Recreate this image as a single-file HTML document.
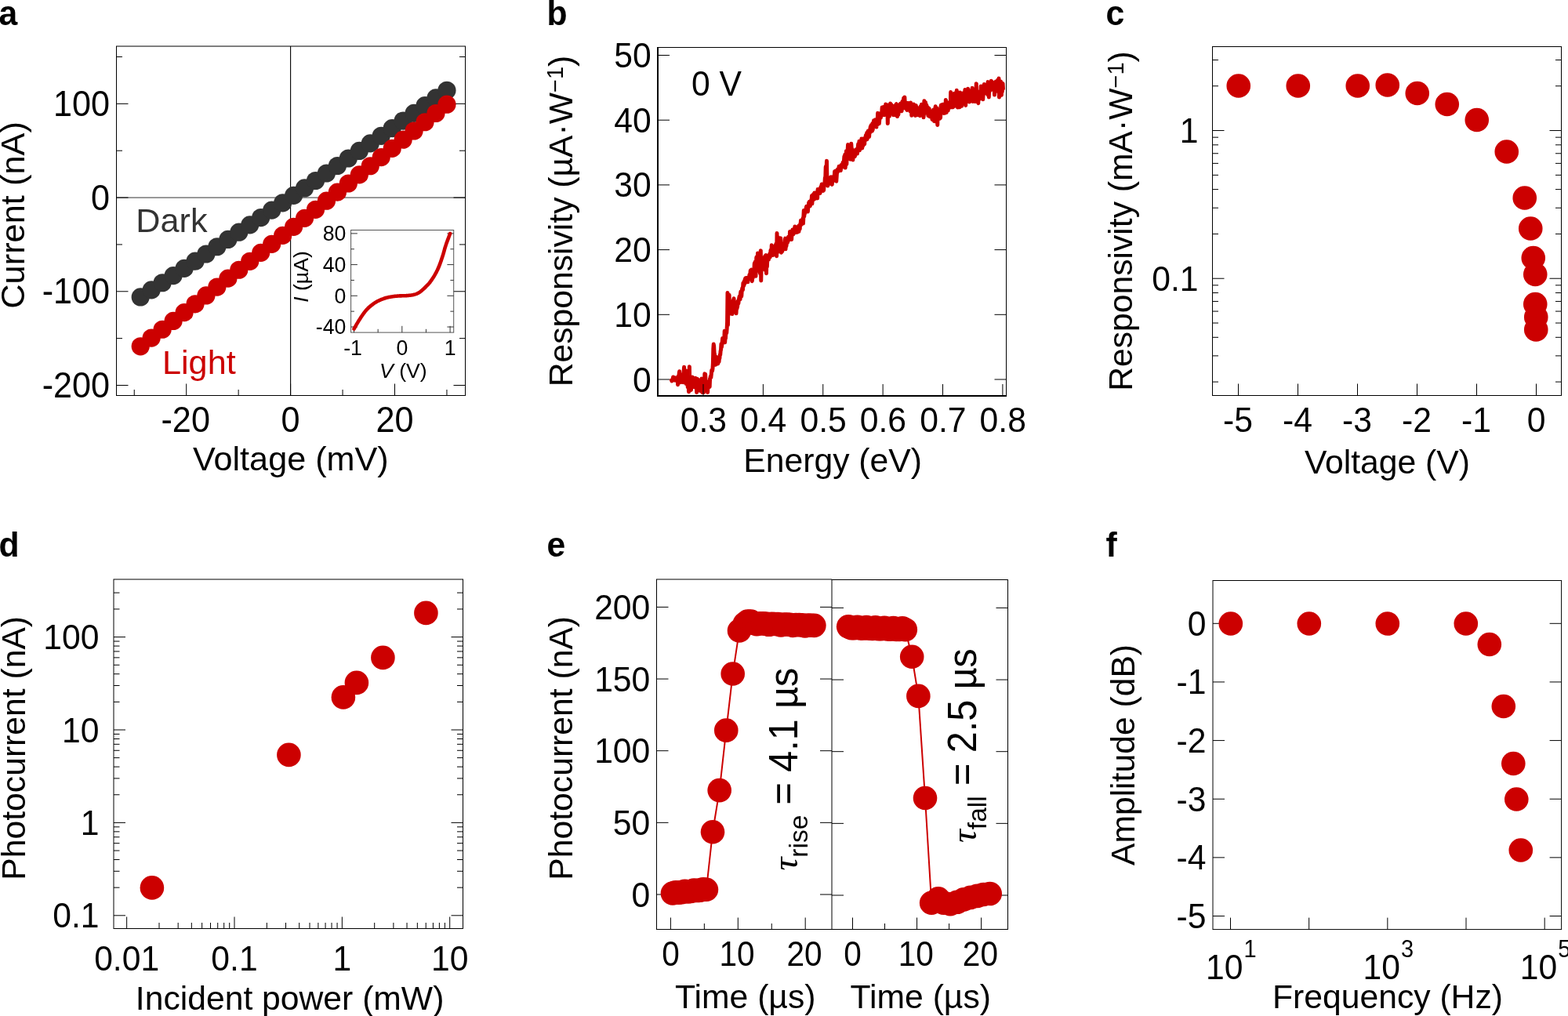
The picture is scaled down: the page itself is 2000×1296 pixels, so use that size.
<!DOCTYPE html>
<html lang="en">
<head>
<meta charset="utf-8">
<title>Figure</title>
<style>
html,body{margin:0;padding:0;background:#fff;}
body{width:2000px;height:1296px;overflow:hidden;}
svg{display:block;}
svg text{font-family:'Liberation Sans', Arial, Helvetica, sans-serif;}
</style>
</head>
<body>
<svg width="2000" height="1296" viewBox="0 0 2000 1296">
<rect x="0" y="0" width="2000" height="1296" fill="#ffffff"/>
<text transform="translate(-1.5 31.7) scale(1 1.03)" font-size="42.67" text-anchor="start" font-weight="bold">a</text>
<text transform="translate(697.5 32) scale(1 1.03)" font-size="42.67" text-anchor="start" font-weight="bold">b</text>
<text transform="translate(1410.5 31.8) scale(1 1.03)" font-size="42.67" text-anchor="start" font-weight="bold">c</text>
<text transform="translate(-1.5 709.6) scale(1 1.03)" font-size="42.67" text-anchor="start" font-weight="bold">d</text>
<text transform="translate(697.5 709.6) scale(1 1.03)" font-size="42.67" text-anchor="start" font-weight="bold">e</text>
<text transform="translate(1410.5 709.6) scale(1 1.03)" font-size="42.67" text-anchor="start" font-weight="bold">f</text>
<g id="panel-a">
<line x1="370.6" y1="59" x2="370.6" y2="504.5" stroke="#000" stroke-width="1.1"/>
<line x1="148.5" y1="252.07" x2="593.5" y2="252.07" stroke="#333" stroke-width="1.0"/>
<rect x="148.5" y="59" width="445" height="445.5" fill="none" stroke="#000" stroke-width="1.0"/>
<line x1="148.5" y1="132.36" x2="163.5" y2="132.36" stroke="#000" stroke-width="1.0"/>
<line x1="593.5" y1="132.36" x2="578.5" y2="132.36" stroke="#000" stroke-width="1.0"/>
<line x1="148.5" y1="252.07" x2="163.5" y2="252.07" stroke="#000" stroke-width="1.0"/>
<line x1="593.5" y1="252.07" x2="578.5" y2="252.07" stroke="#000" stroke-width="1.0"/>
<line x1="148.5" y1="371.78" x2="163.5" y2="371.78" stroke="#000" stroke-width="1.0"/>
<line x1="593.5" y1="371.78" x2="578.5" y2="371.78" stroke="#000" stroke-width="1.0"/>
<line x1="148.5" y1="491.49" x2="163.5" y2="491.49" stroke="#000" stroke-width="1.0"/>
<line x1="593.5" y1="491.49" x2="578.5" y2="491.49" stroke="#000" stroke-width="1.0"/>
<line x1="148.5" y1="72.5" x2="156" y2="72.5" stroke="#000" stroke-width="1.0"/>
<line x1="593.5" y1="72.5" x2="586" y2="72.5" stroke="#000" stroke-width="1.0"/>
<line x1="148.5" y1="192.21" x2="156" y2="192.21" stroke="#000" stroke-width="1.0"/>
<line x1="593.5" y1="192.21" x2="586" y2="192.21" stroke="#000" stroke-width="1.0"/>
<line x1="148.5" y1="311.93" x2="156" y2="311.93" stroke="#000" stroke-width="1.0"/>
<line x1="593.5" y1="311.93" x2="586" y2="311.93" stroke="#000" stroke-width="1.0"/>
<line x1="148.5" y1="431.63" x2="156" y2="431.63" stroke="#000" stroke-width="1.0"/>
<line x1="593.5" y1="431.63" x2="586" y2="431.63" stroke="#000" stroke-width="1.0"/>
<line x1="237.7" y1="504.5" x2="237.7" y2="489.5" stroke="#000" stroke-width="1.0"/>
<line x1="370.6" y1="504.5" x2="370.6" y2="489.5" stroke="#000" stroke-width="1.0"/>
<line x1="503.5" y1="504.5" x2="503.5" y2="489.5" stroke="#000" stroke-width="1.0"/>
<line x1="171.25" y1="504.5" x2="171.25" y2="497" stroke="#000" stroke-width="1.0"/>
<line x1="304.15" y1="504.5" x2="304.15" y2="497" stroke="#000" stroke-width="1.0"/>
<line x1="437.05" y1="504.5" x2="437.05" y2="497" stroke="#000" stroke-width="1.0"/>
<line x1="569.95" y1="504.5" x2="569.95" y2="497" stroke="#000" stroke-width="1.0"/>
<g fill="#333333"><circle cx="179.22" cy="378.96" r="11.6"/><circle cx="193.18" cy="369.86" r="11.6"/><circle cx="207.13" cy="360.73" r="11.6"/><circle cx="221.09" cy="351.58" r="11.6"/><circle cx="235.04" cy="342.4" r="11.6"/><circle cx="249" cy="333.21" r="11.6"/><circle cx="262.95" cy="323.98" r="11.6"/><circle cx="276.91" cy="314.74" r="11.6"/><circle cx="290.86" cy="305.47" r="11.6"/><circle cx="304.81" cy="296.18" r="11.6"/><circle cx="318.77" cy="286.87" r="11.6"/><circle cx="332.72" cy="277.53" r="11.6"/><circle cx="346.68" cy="268.17" r="11.6"/><circle cx="360.63" cy="258.79" r="11.6"/><circle cx="374.59" cy="249.38" r="11.6"/><circle cx="388.54" cy="239.95" r="11.6"/><circle cx="402.5" cy="230.5" r="11.6"/><circle cx="416.45" cy="221.02" r="11.6"/><circle cx="430.4" cy="211.52" r="11.6"/><circle cx="444.36" cy="202" r="11.6"/><circle cx="458.31" cy="192.45" r="11.6"/><circle cx="472.27" cy="182.88" r="11.6"/><circle cx="486.22" cy="173.28" r="11.6"/><circle cx="500.18" cy="163.67" r="11.6"/><circle cx="514.13" cy="154.03" r="11.6"/><circle cx="528.09" cy="144.36" r="11.6"/><circle cx="542.04" cy="134.68" r="11.6"/><circle cx="556" cy="124.97" r="11.6"/><circle cx="569.95" cy="115.24" r="11.6"/></g>
<g fill="#cc0000"><circle cx="179.22" cy="441.81" r="11.6"/><circle cx="193.18" cy="431.05" r="11.6"/><circle cx="207.13" cy="420.26" r="11.6"/><circle cx="221.09" cy="409.46" r="11.6"/><circle cx="235.04" cy="398.64" r="11.6"/><circle cx="249" cy="387.79" r="11.6"/><circle cx="262.95" cy="376.93" r="11.6"/><circle cx="276.91" cy="366.05" r="11.6"/><circle cx="290.86" cy="355.16" r="11.6"/><circle cx="304.81" cy="344.24" r="11.6"/><circle cx="318.77" cy="333.3" r="11.6"/><circle cx="332.72" cy="322.35" r="11.6"/><circle cx="346.68" cy="311.37" r="11.6"/><circle cx="360.63" cy="300.38" r="11.6"/><circle cx="374.59" cy="289.37" r="11.6"/><circle cx="388.54" cy="278.34" r="11.6"/><circle cx="402.5" cy="267.28" r="11.6"/><circle cx="416.45" cy="256.22" r="11.6"/><circle cx="430.4" cy="245.13" r="11.6"/><circle cx="444.36" cy="234.02" r="11.6"/><circle cx="458.31" cy="222.89" r="11.6"/><circle cx="472.27" cy="211.75" r="11.6"/><circle cx="486.22" cy="200.58" r="11.6"/><circle cx="500.18" cy="189.4" r="11.6"/><circle cx="514.13" cy="178.2" r="11.6"/><circle cx="528.09" cy="166.98" r="11.6"/><circle cx="542.04" cy="155.74" r="11.6"/><circle cx="556" cy="144.48" r="11.6"/><circle cx="569.95" cy="133.2" r="11.6"/></g>
<text transform="translate(140.1 147.86) scale(1 1.055)" font-size="43.2" text-anchor="end">100</text>
<text transform="translate(140.1 267.57) scale(1 1.055)" font-size="43.2" text-anchor="end">0</text>
<text transform="translate(140.1 387.28) scale(1 1.055)" font-size="43.2" text-anchor="end">-100</text>
<text transform="translate(140.1 506.99) scale(1 1.055)" font-size="43.2" text-anchor="end">-200</text>
<text transform="translate(236.7 551.2) scale(1 1.055)" font-size="43.2" text-anchor="middle">-20</text>
<text transform="translate(370.6 551.2) scale(1 1.055)" font-size="43.2" text-anchor="middle">0</text>
<text transform="translate(503.5 551.2) scale(1 1.055)" font-size="43.2" text-anchor="middle">20</text>
<text transform="translate(370.9 600.4)" font-size="43.2" text-anchor="middle">Voltage (mV)</text>
<text transform="translate(31 274.4) rotate(-90)" font-size="43.4" text-anchor="middle">Current (nA)</text>
<text transform="translate(173.3 296)" font-size="43.2" text-anchor="start" fill="#333333">Dark</text>
<text transform="translate(207 477)" font-size="43.2" text-anchor="start" fill="#cc0000">Light</text>
<rect x="447.6" y="293.5" width="131.1" height="130.6" fill="none" stroke="#555" stroke-width="1.0"/>
<line x1="447.6" y1="297.86" x2="455.9" y2="297.86" stroke="#333" stroke-width="1.0"/>
<line x1="578.7" y1="297.86" x2="570.4" y2="297.86" stroke="#333" stroke-width="1.0"/>
<line x1="447.6" y1="337.58" x2="455.9" y2="337.58" stroke="#333" stroke-width="1.0"/>
<line x1="578.7" y1="337.58" x2="570.4" y2="337.58" stroke="#333" stroke-width="1.0"/>
<line x1="447.6" y1="377.3" x2="455.9" y2="377.3" stroke="#333" stroke-width="1.0"/>
<line x1="578.7" y1="377.3" x2="570.4" y2="377.3" stroke="#333" stroke-width="1.0"/>
<line x1="447.6" y1="417.02" x2="455.9" y2="417.02" stroke="#333" stroke-width="1.0"/>
<line x1="578.7" y1="417.02" x2="570.4" y2="417.02" stroke="#333" stroke-width="1.0"/>
<line x1="447.6" y1="317.72" x2="451.9" y2="317.72" stroke="#333" stroke-width="1.0"/>
<line x1="578.7" y1="317.72" x2="574.4" y2="317.72" stroke="#333" stroke-width="1.0"/>
<line x1="447.6" y1="357.44" x2="451.9" y2="357.44" stroke="#333" stroke-width="1.0"/>
<line x1="578.7" y1="357.44" x2="574.4" y2="357.44" stroke="#333" stroke-width="1.0"/>
<line x1="447.6" y1="397.16" x2="451.9" y2="397.16" stroke="#333" stroke-width="1.0"/>
<line x1="578.7" y1="397.16" x2="574.4" y2="397.16" stroke="#333" stroke-width="1.0"/>
<line x1="451.5" y1="424.1" x2="451.5" y2="415.8" stroke="#333" stroke-width="1.0"/>
<line x1="512.8" y1="424.1" x2="512.8" y2="415.8" stroke="#333" stroke-width="1.0"/>
<line x1="574.1" y1="424.1" x2="574.1" y2="415.8" stroke="#333" stroke-width="1.0"/>
<line x1="482.15" y1="424.1" x2="482.15" y2="419.8" stroke="#333" stroke-width="1.0"/>
<line x1="543.45" y1="424.1" x2="543.45" y2="419.8" stroke="#333" stroke-width="1.0"/>
<polyline fill="none" stroke="#cc0000" stroke-width="4.6" stroke-linejoin="round" stroke-linecap="round" points="451.5,419.6 452.27,418.27 453.03,416.93 453.8,415.58 454.56,414.23 455.33,412.89 456.1,411.58 456.86,410.31 457.63,409.08 458.4,407.87 459.16,406.68 459.93,405.5 460.69,404.33 461.46,403.18 462.23,402.05 462.99,400.95 463.76,399.88 464.53,398.84 465.29,397.84 466.06,396.88 466.82,395.97 467.59,395.1 468.36,394.28 469.12,393.51 469.89,392.77 470.66,392.06 471.42,391.38 472.19,390.73 472.95,390.1 473.72,389.49 474.49,388.89 475.25,388.31 476.02,387.73 476.79,387.16 477.55,386.63 478.32,386.13 479.08,385.65 479.85,385.2 480.62,384.76 481.38,384.35 482.15,383.95 482.92,383.57 483.68,383.21 484.45,382.86 485.21,382.53 485.98,382.21 486.75,381.9 487.51,381.61 488.28,381.32 489.05,381.05 489.81,380.79 490.58,380.53 491.34,380.28 492.11,380.04 492.88,379.82 493.64,379.62 494.41,379.43 495.18,379.25 495.94,379.09 496.71,378.94 497.47,378.79 498.24,378.65 499.01,378.52 499.77,378.4 500.54,378.29 501.31,378.18 502.07,378.08 502.84,377.99 503.6,377.9 504.37,377.82 505.14,377.74 505.9,377.67 506.67,377.6 507.44,377.54 508.2,377.49 508.97,377.45 509.73,377.41 510.5,377.38 511.27,377.36 512.03,377.33 512.8,377.3 513.57,377.27 514.33,377.26 515.1,377.25 515.87,377.24 516.63,377.22 517.4,377.2 518.16,377.16 518.93,377.1 519.7,377.04 520.46,376.97 521.23,376.91 522,376.83 522.76,376.76 523.53,376.67 524.29,376.57 525.06,376.46 525.83,376.33 526.59,376.18 527.36,376.01 528.12,375.81 528.89,375.6 529.66,375.37 530.42,375.12 531.19,374.84 531.96,374.53 532.72,374.18 533.49,373.78 534.25,373.33 535.02,372.83 535.79,372.29 536.55,371.72 537.32,371.12 538.09,370.49 538.85,369.83 539.62,369.15 540.38,368.45 541.15,367.73 541.92,367 542.68,366.25 543.45,365.48 544.22,364.71 544.98,363.93 545.75,363.13 546.51,362.29 547.28,361.42 548.05,360.49 548.81,359.5 549.58,358.43 550.35,357.33 551.11,356.2 551.88,355.06 552.64,353.88 553.41,352.67 554.18,351.41 554.94,350.1 555.71,348.74 556.48,347.3 557.24,345.8 558.01,344.22 558.77,342.55 559.54,340.77 560.31,338.87 561.07,336.88 561.84,334.78 562.61,332.61 563.37,330.35 564.14,328.04 564.9,325.66 565.67,323.09 566.44,320.31 567.2,317.52 567.97,314.94 568.74,312.6 569.5,310.36 570.27,308.21 571.03,306.13 571.8,304.07 572.57,302.03 573.33,299.97 574.1,297.86"/>
<text transform="translate(441.4 307.16) scale(1 1.055)" font-size="26.67" text-anchor="end">80</text>
<text transform="translate(441.4 346.88) scale(1 1.055)" font-size="26.67" text-anchor="end">40</text>
<text transform="translate(441.4 386.6) scale(1 1.055)" font-size="26.67" text-anchor="end">0</text>
<text transform="translate(441.4 426.32) scale(1 1.055)" font-size="26.67" text-anchor="end">-40</text>
<text transform="translate(450 453.2) scale(1 1.055)" font-size="26.67" text-anchor="middle">-1</text>
<text transform="translate(512.8 453.2) scale(1 1.055)" font-size="26.67" text-anchor="middle">0</text>
<text transform="translate(574.1 453.2) scale(1 1.055)" font-size="26.67" text-anchor="middle">1</text>
<text transform="translate(514.3 482)" font-size="26.67" text-anchor="middle"><tspan font-style="italic">V</tspan> (V)</text>
<text transform="translate(393 353) rotate(-90)" font-size="26.67" text-anchor="middle"><tspan font-style="italic">I</tspan> (µA)</text>
</g>
<g id="panel-b">
<line x1="838" y1="60.5" x2="1284" y2="60.5" stroke="#000" stroke-width="1.0"/>
<line x1="1283.5" y1="60.5" x2="1283.5" y2="506" stroke="#000" stroke-width="1.0"/>
<line x1="839" y1="60" x2="839" y2="506" stroke="#000" stroke-width="2.0"/>
<line x1="838" y1="505" x2="1284" y2="505" stroke="#000" stroke-width="2.0"/>
<polyline fill="none" stroke="#cc0000" stroke-width="5.0" stroke-linejoin="round" stroke-linecap="round" points="856.52,485.02 856.94,485.96 857.36,485.04 857.79,485.14 858.21,483.27 858.63,480.94 859.06,482.58 859.48,481.46 859.9,481.48 860.33,482.95 860.75,484.54 861.17,485.23 861.59,481.91 862.02,482.68 862.44,482.75 862.86,484.23 863.29,482.92 863.71,482.02 864.13,481.95 864.56,490.7 864.98,480.15 865.4,485.99 865.82,481.85 866.25,476.11 866.67,473.76 867.09,485.36 867.52,478.7 867.94,487.79 868.36,477.52 868.79,485.71 869.21,479.28 869.63,479.89 870.05,479.13 870.48,487.49 870.9,484.94 871.32,485.84 871.75,487.76 872.17,473.01 872.59,468.17 873.02,486.48 873.44,477.29 873.86,485.95 874.28,485.58 874.71,485.46 875.13,489.47 875.55,473.11 875.98,484.64 876.4,483.4 876.82,486.74 877.25,493.84 877.67,491.58 878.09,484.34 878.51,499.75 878.94,491.48 879.36,467.84 879.78,491.97 880.21,498.06 880.63,490.81 881.05,493.3 881.48,497.34 881.9,491.02 882.32,488.89 882.74,486.09 883.17,480.99 883.59,484.8 884.01,490.16 884.44,488.82 884.86,490.3 885.28,489.28 885.71,493.69 886.13,493.61 886.55,491.47 886.97,482.21 887.4,492.7 887.82,490.18 888.24,489.4 888.67,500.54 889.09,484.03 889.51,483.5 889.94,489.87 890.36,489.62 890.78,484.8 891.2,494.96 891.63,488.93 892.05,487.84 892.47,485.09 892.9,493.62 893.32,498.66 893.74,493.6 894.16,489.07 894.59,493.38 895.01,483.12 895.43,497.83 895.86,500.54 896.28,492.78 896.7,487.86 897.13,485.6 897.55,500.54 897.97,493.34 898.39,496.97 898.82,476.82 899.24,488.82 899.66,477.35 900.09,487.11 900.51,493.61 900.93,486.6 901.36,491.02 901.78,489.95 902.2,488.62 902.62,500.54 903.05,487.02 903.47,486.91 903.89,491.25 904.32,487.39 904.74,493.62 905.16,493.32 905.59,482.67 906.01,481.62 906.43,479.86 906.85,481.45 907.28,477.41 907.7,472.66 908.12,471.76 908.55,472.99 908.97,470.33 909.39,463.48 909.82,445.03 910.24,439.02 910.66,441.71 911.08,449.89 911.51,451.94 911.93,459.17 912.35,461.24 912.78,465.15 913.2,464.46 913.62,455.28 914.05,461.89 914.47,461.15 914.89,461.35 915.31,463.39 915.74,463.92 916.16,458.47 916.58,460.51 917.01,461.46 917.43,457 917.85,457.1 918.28,452.4 918.7,452.58 919.12,447.74 919.54,446.06 919.97,438.64 920.39,443.05 920.81,439.81 921.24,435.86 921.66,431.62 922.08,433.26 922.51,433.61 922.93,436.86 923.35,433.93 923.77,433.14 924.2,422.17 924.62,436.81 925.04,431.44 925.47,431.6 925.89,424.48 926.31,421.17 926.74,424.74 927.16,419.22 927.58,410.78 928,373.38 928.43,414.69 928.85,395.76 929.27,387.85 929.7,388.32 930.12,376.26 930.54,400.43 930.97,397.9 931.39,390.31 931.81,388.09 932.23,394.06 932.66,397.64 933.08,391.06 933.5,391.24 933.93,400.54 934.35,395.52 934.77,394.07 935.2,383.19 935.62,383.6 936.04,380.78 936.46,388.39 936.89,396.51 937.31,389.32 937.73,396.26 938.16,390.79 938.58,392.44 939,399.78 939.43,391.78 939.85,393.95 940.27,392.42 940.69,390.69 941.12,384.13 941.54,387.69 941.96,386.63 942.39,382.07 942.81,379.57 943.23,378 943.66,379.48 944.08,381.88 944.5,374.61 944.92,371.97 945.35,373.66 945.77,377.92 946.19,371.71 946.62,368.52 947.04,367.07 947.46,369.81 947.88,361.17 948.31,360.58 948.73,364.42 949.15,359.42 949.58,358.06 950,361.94 950.42,355.83 950.85,354.91 951.27,360.01 951.69,355.33 952.11,354.55 952.54,358.13 952.96,354.44 953.38,355.35 953.81,359.83 954.23,356.71 954.65,356.63 955.08,355.86 955.5,354.51 955.92,350.39 956.34,350.72 956.77,351.65 957.19,345.34 957.61,347.13 958.04,351.56 958.46,344.11 958.88,351.73 959.31,358.63 959.73,354.35 960.15,354.51 960.57,347.96 961,352.44 961.42,345.7 961.84,345.28 962.27,336.02 962.69,344.15 963.11,334.31 963.54,339.09 963.96,352.31 964.38,338.78 964.8,328.36 965.23,335.61 965.65,327.3 966.07,345.33 966.5,322.98 966.92,331.45 967.34,339.49 967.77,343.03 968.19,340.91 968.61,338.34 969.03,335.89 969.46,348.73 969.88,332.02 970.3,319.65 970.73,358.05 971.15,339.56 971.57,336.43 972,339.48 972.42,340.14 972.84,334.64 973.26,343.31 973.69,329.81 974.11,342.78 974.53,338.23 974.96,330.26 975.38,327.63 975.8,326.62 976.23,330.51 976.65,345.1 977.07,325.62 977.49,348.68 977.92,329.09 978.34,340.25 978.76,332.07 979.19,329.96 979.61,326.71 980.03,329.36 980.46,331.09 980.88,326.76 981.3,328.1 981.72,323.69 982.15,328.04 982.57,325.07 982.99,319.16 983.42,324.19 983.84,324.52 984.26,312.82 984.69,320.22 985.11,321.75 985.53,320.9 985.95,325.52 986.38,320.54 986.8,323.96 987.22,324.84 987.65,320.52 988.07,324.55 988.49,320.03 988.92,313.15 989.34,321.47 989.76,311.3 990.18,311.53 990.61,326.64 991.03,297.51 991.45,320.83 991.88,317.52 992.3,302.39 992.72,319.61 993.15,320.84 993.57,316.55 993.99,315.37 994.41,317.37 994.84,309.32 995.26,316.5 995.68,303.63 996.11,313.25 996.53,322.13 996.95,315.37 997.38,319.33 997.8,320.69 998.22,317.16 998.64,313.92 999.07,318 999.49,316.79 999.91,310.4 1000.34,311.93 1000.76,317.26 1001.18,306.51 1001.61,304.12 1002.03,317.81 1002.45,311.78 1002.87,314.18 1003.3,311.41 1003.72,308.31 1004.14,305.37 1004.57,309.25 1004.99,303.05 1005.41,302.39 1005.83,305.37 1006.26,305.05 1006.68,305.92 1007.1,304.44 1007.53,295.41 1007.95,296.14 1008.37,300.35 1008.8,302.12 1009.22,301.71 1009.64,305.41 1010.06,296.87 1010.49,299.65 1010.91,292.9 1011.33,294.72 1011.76,299.06 1012.18,298.06 1012.6,296.95 1013.03,295.2 1013.45,293.6 1013.87,288.95 1014.29,289.34 1014.72,290.24 1015.14,296.56 1015.56,291.28 1015.99,292.44 1016.41,293.22 1016.83,296.34 1017.26,293.17 1017.68,295.13 1018.1,294.57 1018.52,288.37 1018.95,295.27 1019.37,289.7 1019.79,289.1 1020.22,292.19 1020.64,285.69 1021.06,287.27 1021.49,281.2 1021.91,286.71 1022.33,285.8 1022.75,282.28 1023.18,285.47 1023.6,282.73 1024.02,278.44 1024.45,285.12 1024.87,276.62 1025.29,268.43 1025.72,276.35 1026.14,272.23 1026.56,272.5 1026.98,269.14 1027.41,270.29 1027.83,268.41 1028.25,265.17 1028.68,263.26 1029.1,264.24 1029.52,266.07 1029.95,265.55 1030.37,269.99 1030.79,265.12 1031.21,264.33 1031.64,258.53 1032.06,261.8 1032.48,257.19 1032.91,259.54 1033.33,262.78 1033.75,257.13 1034.18,257.97 1034.6,255.01 1035.02,259.79 1035.44,249.87 1035.87,259.76 1036.29,253.41 1036.71,248.67 1037.14,255.01 1037.56,250.4 1037.98,247.44 1038.41,247.89 1038.83,245.94 1039.25,253.74 1039.67,246.5 1040.1,247.55 1040.52,246.12 1040.94,247.16 1041.37,251.09 1041.79,247.25 1042.21,246.79 1042.64,252.87 1043.06,241.48 1043.48,244.55 1043.9,243.93 1044.33,243.27 1044.75,244.45 1045.17,242.53 1045.6,242.69 1046.02,246.59 1046.44,240.79 1046.87,238.5 1047.29,240.2 1047.71,237.86 1048.13,235.07 1048.56,234.99 1048.98,238.96 1049.4,236.53 1049.83,243.42 1050.25,236.01 1050.67,242.72 1051.1,235.36 1051.52,234.82 1051.94,233.47 1052.36,226.53 1052.79,227.39 1053.21,213.18 1053.63,211.81 1054.06,218.3 1054.48,205.3 1054.9,226.99 1055.33,231.04 1055.75,237.04 1056.17,232.09 1056.59,235.24 1057.02,232.44 1057.44,233.02 1057.86,229.28 1058.29,231.99 1058.71,226.68 1059.13,230.61 1059.55,234.21 1059.98,225.7 1060.4,226.75 1060.82,234.52 1061.25,235.33 1061.67,231.67 1062.09,231.8 1062.52,227.4 1062.94,227.1 1063.36,225.15 1063.78,228.27 1064.21,225.66 1064.63,218.76 1065.05,220.89 1065.48,224.51 1065.9,217.96 1066.32,219.75 1066.75,231.26 1067.17,225.59 1067.59,218.96 1068.01,220.3 1068.44,216.09 1068.86,218.78 1069.28,215.24 1069.71,215.56 1070.13,212.3 1070.55,213.16 1070.98,213.24 1071.4,213.5 1071.82,212.9 1072.24,217.61 1072.67,213.88 1073.09,210.42 1073.51,211.15 1073.94,210.03 1074.36,213.13 1074.78,208.9 1075.21,207.14 1075.63,211.86 1076.05,211.61 1076.47,204.98 1076.9,199.56 1077.32,205.41 1077.74,197.31 1078.17,214.08 1078.59,208.41 1079.01,205.37 1079.44,192.66 1079.86,209.45 1080.28,197.22 1080.7,203.32 1081.13,191.84 1081.55,184.61 1081.97,199.95 1082.4,190.79 1082.82,192.35 1083.24,187.03 1083.67,192.06 1084.09,194.33 1084.51,187.33 1084.93,203.36 1085.36,199.18 1085.78,183.33 1086.2,189.93 1086.63,189.8 1087.05,197.17 1087.47,199.13 1087.9,203.89 1088.32,195.25 1088.74,191.61 1089.16,193.57 1089.59,196.2 1090.01,199.18 1090.43,199.34 1090.86,193.04 1091.28,195.82 1091.7,192.77 1092.13,190.8 1092.55,190.36 1092.97,192.45 1093.39,196.07 1093.82,192.92 1094.24,187.94 1094.66,183.78 1095.09,187.39 1095.51,191.98 1095.93,180.2 1096.36,191.84 1096.78,180.39 1097.2,184.24 1097.62,187.12 1098.05,187.07 1098.47,188.8 1098.89,176.97 1099.32,181.16 1099.74,189.01 1100.16,179.75 1100.59,186.37 1101.01,181.57 1101.43,183.57 1101.85,176.83 1102.28,182.7 1102.7,183.82 1103.12,176.42 1103.55,179.24 1103.97,174.85 1104.39,172.57 1104.82,173.14 1105.24,177.09 1105.66,169.55 1106.08,177.75 1106.51,174.7 1106.93,169.43 1107.35,166.92 1107.78,170.17 1108.2,167.35 1108.62,174.45 1109.05,167.71 1109.47,169.49 1109.89,164.08 1110.31,161.65 1110.74,163.83 1111.16,159.74 1111.58,160.67 1112.01,166.82 1112.43,167.04 1112.85,157.4 1113.28,165.41 1113.7,156.96 1114.12,158.18 1114.54,153.7 1114.97,158.79 1115.39,158.53 1115.81,153.85 1116.24,152.92 1116.66,156.25 1117.08,158.71 1117.5,157.75 1117.93,162.02 1118.35,153.55 1118.77,159.26 1119.2,153.39 1119.62,144.31 1120.04,153.72 1120.47,150.27 1120.89,152.14 1121.31,157.67 1121.73,153.56 1122.16,149.78 1122.58,144.72 1123,150.32 1123.43,150.09 1123.85,145.87 1124.27,146.13 1124.7,144.68 1125.12,137.03 1125.54,146.02 1125.96,144.33 1126.39,138.59 1126.81,136.63 1127.23,138.05 1127.66,146.8 1128.08,139.15 1128.5,139.89 1128.93,135.94 1129.35,144.78 1129.77,132.93 1130.19,145.8 1130.62,139.82 1131.04,145.51 1131.46,144.5 1131.89,138.48 1132.31,157.57 1132.73,133.95 1133.16,145.97 1133.58,138.94 1134,142.94 1134.42,148.29 1134.85,137.48 1135.27,141.13 1135.69,132.12 1136.12,141.66 1136.54,138.96 1136.96,133.48 1137.39,141.32 1137.81,143.5 1138.23,135.32 1138.65,138.49 1139.08,144.47 1139.5,146.66 1139.92,145.73 1140.35,136.97 1140.77,135.31 1141.19,140.44 1141.62,137.6 1142.04,146.8 1142.46,144.07 1142.88,133.2 1143.31,132.77 1143.73,146.62 1144.15,138.64 1144.58,148.56 1145,143.03 1145.42,142.22 1145.85,146.32 1146.27,141.95 1146.69,139.44 1147.11,142.13 1147.54,135.7 1147.96,133.01 1148.38,132.35 1148.81,132.98 1149.23,138.23 1149.65,140.64 1150.08,141.66 1150.5,138.67 1150.92,129.6 1151.34,136.83 1151.77,129.77 1152.19,136.76 1152.61,125.28 1153.04,137.59 1153.46,136.26 1153.88,123.95 1154.31,134.69 1154.73,133.29 1155.15,133.51 1155.57,138.43 1156,134.71 1156.42,131.13 1156.84,140.51 1157.27,132.83 1157.69,135.56 1158.11,131.42 1158.54,138.1 1158.96,136.63 1159.38,131.72 1159.8,139.55 1160.23,134.95 1160.65,134.91 1161.07,142.07 1161.5,131.1 1161.92,135.68 1162.34,135.72 1162.77,147.36 1163.19,134.48 1163.61,134.87 1164.03,140.02 1164.46,142.48 1164.88,139.8 1165.3,133.04 1165.73,135.94 1166.15,133.61 1166.57,140.93 1167,135.55 1167.42,147.47 1167.84,135.36 1168.26,134.5 1168.69,136.88 1169.11,139.52 1169.53,146.85 1169.96,143.56 1170.38,144.97 1170.8,141.43 1171.22,139.81 1171.65,138.08 1172.07,141.03 1172.49,139.34 1172.92,139.03 1173.34,147.67 1173.76,139.98 1174.19,135.66 1174.61,136.67 1175.03,136.34 1175.45,133.24 1175.88,142.15 1176.3,139.39 1176.72,136.46 1177.15,140.04 1177.57,133.33 1177.99,149.82 1178.42,145.04 1178.84,128.77 1179.26,136.37 1179.68,136.57 1180.11,141.35 1180.53,130.58 1180.95,144 1181.38,139.22 1181.8,133.98 1182.22,141.03 1182.65,136.22 1183.07,141.94 1183.49,137.06 1183.91,147.6 1184.34,139.16 1184.76,141.57 1185.18,138.49 1185.61,145.33 1186.03,148.78 1186.45,147.16 1186.88,147.27 1187.3,141.8 1187.72,147.74 1188.14,148.85 1188.57,144.89 1188.99,152.45 1189.41,152.09 1189.84,149.59 1190.26,149.87 1190.68,139.95 1191.11,145.99 1191.53,154.53 1191.95,149.61 1192.37,154.71 1192.8,138.47 1193.22,135.79 1193.64,147.25 1194.07,154.85 1194.49,149.69 1194.91,137.94 1195.34,143.71 1195.76,159.47 1196.18,140.11 1196.6,150.18 1197.03,148.12 1197.45,149.02 1197.87,144.51 1198.3,147.97 1198.72,151.17 1199.14,140.87 1199.57,150.14 1199.99,135.93 1200.41,134.03 1200.83,144.41 1201.26,136.83 1201.68,137.95 1202.1,139.88 1202.53,133.19 1202.95,138.01 1203.37,134.63 1203.8,144.5 1204.22,132.88 1204.64,133.71 1205.06,144.36 1205.49,139.45 1205.91,142.59 1206.33,127.4 1206.76,129.21 1207.18,143.62 1207.6,142.16 1208.03,133.11 1208.45,134.31 1208.87,134.68 1209.29,140.79 1209.72,132.24 1210.14,131.21 1210.56,136.39 1210.99,132.87 1211.41,132.97 1211.83,132.52 1212.26,137.02 1212.68,117.62 1213.1,128.28 1213.52,132.69 1213.95,133.99 1214.37,136.8 1214.79,128.86 1215.22,135.33 1215.64,136.56 1216.06,133.34 1216.49,135.83 1216.91,122.78 1217.33,119.21 1217.75,135.27 1218.18,131.64 1218.6,134.23 1219.02,130.7 1219.45,133.3 1219.87,122.64 1220.29,115.33 1220.72,133.37 1221.14,123.82 1221.56,137.11 1221.98,118.49 1222.41,133.92 1222.83,133.26 1223.25,128.34 1223.68,128.63 1224.1,136.63 1224.52,117.93 1224.95,120.23 1225.37,131.72 1225.79,128.29 1226.21,123.25 1226.64,135.36 1227.06,119.88 1227.48,122.91 1227.91,119.03 1228.33,123.79 1228.75,120.03 1229.17,125.97 1229.6,122.79 1230.02,123.98 1230.44,125.99 1230.87,114.55 1231.29,118.56 1231.71,134.54 1232.14,115.67 1232.56,123.38 1232.98,119.21 1233.4,126.61 1233.83,127.12 1234.25,125.48 1234.67,113.32 1235.1,124.08 1235.52,125.21 1235.94,120.68 1236.37,130.07 1236.79,122.33 1237.21,118.45 1237.63,127.26 1238.06,115.71 1238.48,119.7 1238.9,121.76 1239.33,125.64 1239.75,127.6 1240.17,112.13 1240.6,129.51 1241.02,124.41 1241.44,125.18 1241.86,128.14 1242.29,124.25 1242.71,121.3 1243.13,119.63 1243.56,129.61 1243.98,128.46 1244.4,127.76 1244.83,127.24 1245.25,106.63 1245.67,122.55 1246.09,126.29 1246.52,123.6 1246.94,118.76 1247.36,130.23 1247.79,131.58 1248.21,117.2 1248.63,125.87 1249.06,123.89 1249.48,122.7 1249.9,124.87 1250.32,125.97 1250.75,121.67 1251.17,109.99 1251.59,121.65 1252.02,122.04 1252.44,117.49 1252.86,118.31 1253.29,119.73 1253.71,126.71 1254.13,120.63 1254.55,109.18 1254.98,119.63 1255.4,107.38 1255.82,117.07 1256.25,107.92 1256.67,117.62 1257.09,111.36 1257.52,113.58 1257.94,116.34 1258.36,115.45 1258.78,107.98 1259.21,107.56 1259.63,120.7 1260.05,104.58 1260.48,113.99 1260.9,112.5 1261.32,124.01 1261.75,109.32 1262.17,111.24 1262.59,115.8 1263.01,107.24 1263.44,111.32 1263.86,107.44 1264.28,103.2 1264.71,104.49 1265.13,104.27 1265.55,107.15 1265.98,114.31 1266.4,109.33 1266.82,106.81 1267.24,106.65 1267.67,105.56 1268.09,110 1268.51,121.1 1268.94,112.43 1269.36,117.61 1269.78,109.88 1270.21,104.06 1270.63,113.58 1271.05,107.81 1271.47,108.55 1271.9,109.89 1272.32,104.88 1272.74,102.01 1273.17,107.31 1273.59,105.61 1274.01,100.11 1274.44,124.06 1274.86,117.72 1275.28,112 1275.7,115.2 1276.13,109.83 1276.55,104.11 1276.97,121.06 1277.4,121.16 1277.82,112.59 1278.24,117.35 1278.67,113.25 1279.09,106.39 1279.51,113.04"/>
<line x1="839" y1="484" x2="854" y2="484" stroke="#000" stroke-width="1.0"/>
<line x1="1283.5" y1="484" x2="1268.5" y2="484" stroke="#000" stroke-width="1.0"/>
<line x1="839" y1="401.3" x2="854" y2="401.3" stroke="#000" stroke-width="1.0"/>
<line x1="1283.5" y1="401.3" x2="1268.5" y2="401.3" stroke="#000" stroke-width="1.0"/>
<line x1="839" y1="318.6" x2="854" y2="318.6" stroke="#000" stroke-width="1.0"/>
<line x1="1283.5" y1="318.6" x2="1268.5" y2="318.6" stroke="#000" stroke-width="1.0"/>
<line x1="839" y1="235.9" x2="854" y2="235.9" stroke="#000" stroke-width="1.0"/>
<line x1="1283.5" y1="235.9" x2="1268.5" y2="235.9" stroke="#000" stroke-width="1.0"/>
<line x1="839" y1="153.2" x2="854" y2="153.2" stroke="#000" stroke-width="1.0"/>
<line x1="1283.5" y1="153.2" x2="1268.5" y2="153.2" stroke="#000" stroke-width="1.0"/>
<line x1="839" y1="70.5" x2="854" y2="70.5" stroke="#000" stroke-width="1.0"/>
<line x1="1283.5" y1="70.5" x2="1268.5" y2="70.5" stroke="#000" stroke-width="1.0"/>
<line x1="897" y1="505" x2="897" y2="490" stroke="#000" stroke-width="1.0"/>
<line x1="973.38" y1="505" x2="973.38" y2="490" stroke="#000" stroke-width="1.0"/>
<line x1="1049.76" y1="505" x2="1049.76" y2="490" stroke="#000" stroke-width="1.0"/>
<line x1="1126.14" y1="505" x2="1126.14" y2="490" stroke="#000" stroke-width="1.0"/>
<line x1="1202.52" y1="505" x2="1202.52" y2="490" stroke="#000" stroke-width="1.0"/>
<line x1="1278.9" y1="505" x2="1278.9" y2="490" stroke="#000" stroke-width="1.0"/>
<text transform="translate(830.8 499.5) scale(1 1.055)" font-size="42.67" text-anchor="end">0</text>
<text transform="translate(830.8 416.8) scale(1 1.055)" font-size="42.67" text-anchor="end">10</text>
<text transform="translate(830.8 334.1) scale(1 1.055)" font-size="42.67" text-anchor="end">20</text>
<text transform="translate(830.8 251.4) scale(1 1.055)" font-size="42.67" text-anchor="end">30</text>
<text transform="translate(830.8 168.7) scale(1 1.055)" font-size="42.67" text-anchor="end">40</text>
<text transform="translate(830.8 86) scale(1 1.055)" font-size="42.67" text-anchor="end">50</text>
<text transform="translate(897.3 551.2) scale(1 1.055)" font-size="42.67" text-anchor="middle">0.3</text>
<text transform="translate(973.68 551.2) scale(1 1.055)" font-size="42.67" text-anchor="middle">0.4</text>
<text transform="translate(1050.06 551.2) scale(1 1.055)" font-size="42.67" text-anchor="middle">0.5</text>
<text transform="translate(1126.44 551.2) scale(1 1.055)" font-size="42.67" text-anchor="middle">0.6</text>
<text transform="translate(1202.82 551.2) scale(1 1.055)" font-size="42.67" text-anchor="middle">0.7</text>
<text transform="translate(1279.2 551.2) scale(1 1.055)" font-size="42.67" text-anchor="middle">0.8</text>
<text transform="translate(1062.1 601.5)" font-size="42.67" text-anchor="middle">Energy (eV)</text>
<text transform="translate(729.7 282) rotate(-90)" font-size="42.67" text-anchor="middle">Responsivity (µA·W<tspan font-size="29" dy="-11.3">−1</tspan><tspan dy="11.3">)</tspan></text>
<text transform="translate(882 122) scale(1 1.055)" font-size="42.67" text-anchor="start">0 V</text>
</g>
<g id="panel-c">
<rect x="1546.5" y="59.5" width="445" height="445" fill="none" stroke="#000" stroke-width="1.0"/>
<line x1="1546.5" y1="166.53" x2="1561.5" y2="166.53" stroke="#000" stroke-width="1.0"/>
<line x1="1991.5" y1="166.53" x2="1976.5" y2="166.53" stroke="#000" stroke-width="1.0"/>
<line x1="1546.5" y1="355.22" x2="1561.5" y2="355.22" stroke="#000" stroke-width="1.0"/>
<line x1="1991.5" y1="355.22" x2="1976.5" y2="355.22" stroke="#000" stroke-width="1.0"/>
<line x1="1546.5" y1="487.11" x2="1554" y2="487.11" stroke="#000" stroke-width="1.0"/>
<line x1="1991.5" y1="487.11" x2="1984" y2="487.11" stroke="#000" stroke-width="1.0"/>
<line x1="1546.5" y1="453.88" x2="1554" y2="453.88" stroke="#000" stroke-width="1.0"/>
<line x1="1991.5" y1="453.88" x2="1984" y2="453.88" stroke="#000" stroke-width="1.0"/>
<line x1="1546.5" y1="430.31" x2="1554" y2="430.31" stroke="#000" stroke-width="1.0"/>
<line x1="1991.5" y1="430.31" x2="1984" y2="430.31" stroke="#000" stroke-width="1.0"/>
<line x1="1546.5" y1="412.02" x2="1554" y2="412.02" stroke="#000" stroke-width="1.0"/>
<line x1="1991.5" y1="412.02" x2="1984" y2="412.02" stroke="#000" stroke-width="1.0"/>
<line x1="1546.5" y1="397.08" x2="1554" y2="397.08" stroke="#000" stroke-width="1.0"/>
<line x1="1991.5" y1="397.08" x2="1984" y2="397.08" stroke="#000" stroke-width="1.0"/>
<line x1="1546.5" y1="384.45" x2="1554" y2="384.45" stroke="#000" stroke-width="1.0"/>
<line x1="1991.5" y1="384.45" x2="1984" y2="384.45" stroke="#000" stroke-width="1.0"/>
<line x1="1546.5" y1="373.51" x2="1554" y2="373.51" stroke="#000" stroke-width="1.0"/>
<line x1="1991.5" y1="373.51" x2="1984" y2="373.51" stroke="#000" stroke-width="1.0"/>
<line x1="1546.5" y1="363.85" x2="1554" y2="363.85" stroke="#000" stroke-width="1.0"/>
<line x1="1991.5" y1="363.85" x2="1984" y2="363.85" stroke="#000" stroke-width="1.0"/>
<line x1="1546.5" y1="298.42" x2="1554" y2="298.42" stroke="#000" stroke-width="1.0"/>
<line x1="1991.5" y1="298.42" x2="1984" y2="298.42" stroke="#000" stroke-width="1.0"/>
<line x1="1546.5" y1="265.19" x2="1554" y2="265.19" stroke="#000" stroke-width="1.0"/>
<line x1="1991.5" y1="265.19" x2="1984" y2="265.19" stroke="#000" stroke-width="1.0"/>
<line x1="1546.5" y1="241.62" x2="1554" y2="241.62" stroke="#000" stroke-width="1.0"/>
<line x1="1991.5" y1="241.62" x2="1984" y2="241.62" stroke="#000" stroke-width="1.0"/>
<line x1="1546.5" y1="223.33" x2="1554" y2="223.33" stroke="#000" stroke-width="1.0"/>
<line x1="1991.5" y1="223.33" x2="1984" y2="223.33" stroke="#000" stroke-width="1.0"/>
<line x1="1546.5" y1="208.39" x2="1554" y2="208.39" stroke="#000" stroke-width="1.0"/>
<line x1="1991.5" y1="208.39" x2="1984" y2="208.39" stroke="#000" stroke-width="1.0"/>
<line x1="1546.5" y1="195.76" x2="1554" y2="195.76" stroke="#000" stroke-width="1.0"/>
<line x1="1991.5" y1="195.76" x2="1984" y2="195.76" stroke="#000" stroke-width="1.0"/>
<line x1="1546.5" y1="184.82" x2="1554" y2="184.82" stroke="#000" stroke-width="1.0"/>
<line x1="1991.5" y1="184.82" x2="1984" y2="184.82" stroke="#000" stroke-width="1.0"/>
<line x1="1546.5" y1="175.16" x2="1554" y2="175.16" stroke="#000" stroke-width="1.0"/>
<line x1="1991.5" y1="175.16" x2="1984" y2="175.16" stroke="#000" stroke-width="1.0"/>
<line x1="1546.5" y1="109.73" x2="1554" y2="109.73" stroke="#000" stroke-width="1.0"/>
<line x1="1991.5" y1="109.73" x2="1984" y2="109.73" stroke="#000" stroke-width="1.0"/>
<line x1="1546.5" y1="76.5" x2="1554" y2="76.5" stroke="#000" stroke-width="1.0"/>
<line x1="1991.5" y1="76.5" x2="1984" y2="76.5" stroke="#000" stroke-width="1.0"/>
<line x1="1579.5" y1="504.5" x2="1579.5" y2="489.5" stroke="#000" stroke-width="1.0"/>
<line x1="1655.5" y1="504.5" x2="1655.5" y2="489.5" stroke="#000" stroke-width="1.0"/>
<line x1="1731.5" y1="504.5" x2="1731.5" y2="489.5" stroke="#000" stroke-width="1.0"/>
<line x1="1807.5" y1="504.5" x2="1807.5" y2="489.5" stroke="#000" stroke-width="1.0"/>
<line x1="1883.5" y1="504.5" x2="1883.5" y2="489.5" stroke="#000" stroke-width="1.0"/>
<line x1="1959.5" y1="504.5" x2="1959.5" y2="489.5" stroke="#000" stroke-width="1.0"/>
<g fill="#cc0000"><circle cx="1579.75" cy="109.5" r="15.3"/><circle cx="1655.75" cy="109.5" r="15.3"/><circle cx="1731.75" cy="109.5" r="15.3"/><circle cx="1769.75" cy="108.5" r="15.3"/><circle cx="1807.75" cy="119" r="15.3"/><circle cx="1845.75" cy="133" r="15.3"/><circle cx="1883.75" cy="153" r="15.3"/><circle cx="1921.75" cy="193.5" r="15.3"/><circle cx="1944.75" cy="252.5" r="15.3"/><circle cx="1952.25" cy="291.5" r="15.3"/><circle cx="1955.75" cy="329" r="15.3"/><circle cx="1958.25" cy="350" r="15.3"/><circle cx="1958.25" cy="388" r="15.3"/><circle cx="1959.25" cy="404.5" r="15.3"/><circle cx="1959.25" cy="420.5" r="15.3"/></g>
<text transform="translate(1528.5 182.03) scale(1 1.055)" font-size="42.67" text-anchor="end">1</text>
<text transform="translate(1528.5 370.72) scale(1 1.055)" font-size="42.67" text-anchor="end">0.1</text>
<text transform="translate(1578.9 550.8) scale(1 1.055)" font-size="42.67" text-anchor="middle">-5</text>
<text transform="translate(1654.9 550.8) scale(1 1.055)" font-size="42.67" text-anchor="middle">-4</text>
<text transform="translate(1730.9 550.8) scale(1 1.055)" font-size="42.67" text-anchor="middle">-3</text>
<text transform="translate(1806.9 550.8) scale(1 1.055)" font-size="42.67" text-anchor="middle">-2</text>
<text transform="translate(1882.9 550.8) scale(1 1.055)" font-size="42.67" text-anchor="middle">-1</text>
<text transform="translate(1959.5 550.8) scale(1 1.055)" font-size="42.67" text-anchor="middle">0</text>
<text transform="translate(1769.4 603.5)" font-size="42.67" text-anchor="middle">Voltage (V)</text>
<text transform="translate(1444 282) rotate(-90)" font-size="42.67" text-anchor="middle">Responsivity (mA·W<tspan font-size="29" dy="-11.3">−1</tspan><tspan dy="11.3">)</tspan></text>
</g>
<g id="panel-d">
<rect x="145" y="739" width="445.5" height="445.5" fill="none" stroke="#000" stroke-width="1.0"/>
<line x1="145" y1="812.6" x2="160" y2="812.6" stroke="#000" stroke-width="1.0"/>
<line x1="590.5" y1="812.6" x2="575.5" y2="812.6" stroke="#000" stroke-width="1.0"/>
<line x1="145" y1="931" x2="160" y2="931" stroke="#000" stroke-width="1.0"/>
<line x1="590.5" y1="931" x2="575.5" y2="931" stroke="#000" stroke-width="1.0"/>
<line x1="145" y1="1049.4" x2="160" y2="1049.4" stroke="#000" stroke-width="1.0"/>
<line x1="590.5" y1="1049.4" x2="575.5" y2="1049.4" stroke="#000" stroke-width="1.0"/>
<line x1="145" y1="1167.8" x2="160" y2="1167.8" stroke="#000" stroke-width="1.0"/>
<line x1="590.5" y1="1167.8" x2="575.5" y2="1167.8" stroke="#000" stroke-width="1.0"/>
<line x1="145" y1="1132.16" x2="152.5" y2="1132.16" stroke="#000" stroke-width="1.0"/>
<line x1="590.5" y1="1132.16" x2="583" y2="1132.16" stroke="#000" stroke-width="1.0"/>
<line x1="145" y1="1111.31" x2="152.5" y2="1111.31" stroke="#000" stroke-width="1.0"/>
<line x1="590.5" y1="1111.31" x2="583" y2="1111.31" stroke="#000" stroke-width="1.0"/>
<line x1="145" y1="1096.52" x2="152.5" y2="1096.52" stroke="#000" stroke-width="1.0"/>
<line x1="590.5" y1="1096.52" x2="583" y2="1096.52" stroke="#000" stroke-width="1.0"/>
<line x1="145" y1="1085.04" x2="152.5" y2="1085.04" stroke="#000" stroke-width="1.0"/>
<line x1="590.5" y1="1085.04" x2="583" y2="1085.04" stroke="#000" stroke-width="1.0"/>
<line x1="145" y1="1075.67" x2="152.5" y2="1075.67" stroke="#000" stroke-width="1.0"/>
<line x1="590.5" y1="1075.67" x2="583" y2="1075.67" stroke="#000" stroke-width="1.0"/>
<line x1="145" y1="1067.74" x2="152.5" y2="1067.74" stroke="#000" stroke-width="1.0"/>
<line x1="590.5" y1="1067.74" x2="583" y2="1067.74" stroke="#000" stroke-width="1.0"/>
<line x1="145" y1="1060.87" x2="152.5" y2="1060.87" stroke="#000" stroke-width="1.0"/>
<line x1="590.5" y1="1060.87" x2="583" y2="1060.87" stroke="#000" stroke-width="1.0"/>
<line x1="145" y1="1054.82" x2="152.5" y2="1054.82" stroke="#000" stroke-width="1.0"/>
<line x1="590.5" y1="1054.82" x2="583" y2="1054.82" stroke="#000" stroke-width="1.0"/>
<line x1="145" y1="1013.76" x2="152.5" y2="1013.76" stroke="#000" stroke-width="1.0"/>
<line x1="590.5" y1="1013.76" x2="583" y2="1013.76" stroke="#000" stroke-width="1.0"/>
<line x1="145" y1="992.91" x2="152.5" y2="992.91" stroke="#000" stroke-width="1.0"/>
<line x1="590.5" y1="992.91" x2="583" y2="992.91" stroke="#000" stroke-width="1.0"/>
<line x1="145" y1="978.12" x2="152.5" y2="978.12" stroke="#000" stroke-width="1.0"/>
<line x1="590.5" y1="978.12" x2="583" y2="978.12" stroke="#000" stroke-width="1.0"/>
<line x1="145" y1="966.64" x2="152.5" y2="966.64" stroke="#000" stroke-width="1.0"/>
<line x1="590.5" y1="966.64" x2="583" y2="966.64" stroke="#000" stroke-width="1.0"/>
<line x1="145" y1="957.27" x2="152.5" y2="957.27" stroke="#000" stroke-width="1.0"/>
<line x1="590.5" y1="957.27" x2="583" y2="957.27" stroke="#000" stroke-width="1.0"/>
<line x1="145" y1="949.34" x2="152.5" y2="949.34" stroke="#000" stroke-width="1.0"/>
<line x1="590.5" y1="949.34" x2="583" y2="949.34" stroke="#000" stroke-width="1.0"/>
<line x1="145" y1="942.47" x2="152.5" y2="942.47" stroke="#000" stroke-width="1.0"/>
<line x1="590.5" y1="942.47" x2="583" y2="942.47" stroke="#000" stroke-width="1.0"/>
<line x1="145" y1="936.42" x2="152.5" y2="936.42" stroke="#000" stroke-width="1.0"/>
<line x1="590.5" y1="936.42" x2="583" y2="936.42" stroke="#000" stroke-width="1.0"/>
<line x1="145" y1="895.36" x2="152.5" y2="895.36" stroke="#000" stroke-width="1.0"/>
<line x1="590.5" y1="895.36" x2="583" y2="895.36" stroke="#000" stroke-width="1.0"/>
<line x1="145" y1="874.51" x2="152.5" y2="874.51" stroke="#000" stroke-width="1.0"/>
<line x1="590.5" y1="874.51" x2="583" y2="874.51" stroke="#000" stroke-width="1.0"/>
<line x1="145" y1="859.72" x2="152.5" y2="859.72" stroke="#000" stroke-width="1.0"/>
<line x1="590.5" y1="859.72" x2="583" y2="859.72" stroke="#000" stroke-width="1.0"/>
<line x1="145" y1="848.24" x2="152.5" y2="848.24" stroke="#000" stroke-width="1.0"/>
<line x1="590.5" y1="848.24" x2="583" y2="848.24" stroke="#000" stroke-width="1.0"/>
<line x1="145" y1="838.87" x2="152.5" y2="838.87" stroke="#000" stroke-width="1.0"/>
<line x1="590.5" y1="838.87" x2="583" y2="838.87" stroke="#000" stroke-width="1.0"/>
<line x1="145" y1="830.94" x2="152.5" y2="830.94" stroke="#000" stroke-width="1.0"/>
<line x1="590.5" y1="830.94" x2="583" y2="830.94" stroke="#000" stroke-width="1.0"/>
<line x1="145" y1="824.07" x2="152.5" y2="824.07" stroke="#000" stroke-width="1.0"/>
<line x1="590.5" y1="824.07" x2="583" y2="824.07" stroke="#000" stroke-width="1.0"/>
<line x1="145" y1="818.02" x2="152.5" y2="818.02" stroke="#000" stroke-width="1.0"/>
<line x1="590.5" y1="818.02" x2="583" y2="818.02" stroke="#000" stroke-width="1.0"/>
<line x1="145" y1="776.96" x2="152.5" y2="776.96" stroke="#000" stroke-width="1.0"/>
<line x1="590.5" y1="776.96" x2="583" y2="776.96" stroke="#000" stroke-width="1.0"/>
<line x1="145" y1="756.11" x2="152.5" y2="756.11" stroke="#000" stroke-width="1.0"/>
<line x1="590.5" y1="756.11" x2="583" y2="756.11" stroke="#000" stroke-width="1.0"/>
<line x1="161.65" y1="1184.5" x2="161.65" y2="1169.5" stroke="#000" stroke-width="1.0"/>
<line x1="299" y1="1184.5" x2="299" y2="1169.5" stroke="#000" stroke-width="1.0"/>
<line x1="436.35" y1="1184.5" x2="436.35" y2="1169.5" stroke="#000" stroke-width="1.0"/>
<line x1="573.7" y1="1184.5" x2="573.7" y2="1169.5" stroke="#000" stroke-width="1.0"/>
<line x1="203" y1="1184.5" x2="203" y2="1177" stroke="#000" stroke-width="1.0"/>
<line x1="227.18" y1="1184.5" x2="227.18" y2="1177" stroke="#000" stroke-width="1.0"/>
<line x1="244.34" y1="1184.5" x2="244.34" y2="1177" stroke="#000" stroke-width="1.0"/>
<line x1="257.65" y1="1184.5" x2="257.65" y2="1177" stroke="#000" stroke-width="1.0"/>
<line x1="268.53" y1="1184.5" x2="268.53" y2="1177" stroke="#000" stroke-width="1.0"/>
<line x1="277.72" y1="1184.5" x2="277.72" y2="1177" stroke="#000" stroke-width="1.0"/>
<line x1="285.69" y1="1184.5" x2="285.69" y2="1177" stroke="#000" stroke-width="1.0"/>
<line x1="292.72" y1="1184.5" x2="292.72" y2="1177" stroke="#000" stroke-width="1.0"/>
<line x1="340.35" y1="1184.5" x2="340.35" y2="1177" stroke="#000" stroke-width="1.0"/>
<line x1="364.53" y1="1184.5" x2="364.53" y2="1177" stroke="#000" stroke-width="1.0"/>
<line x1="381.69" y1="1184.5" x2="381.69" y2="1177" stroke="#000" stroke-width="1.0"/>
<line x1="395" y1="1184.5" x2="395" y2="1177" stroke="#000" stroke-width="1.0"/>
<line x1="405.88" y1="1184.5" x2="405.88" y2="1177" stroke="#000" stroke-width="1.0"/>
<line x1="415.07" y1="1184.5" x2="415.07" y2="1177" stroke="#000" stroke-width="1.0"/>
<line x1="423.04" y1="1184.5" x2="423.04" y2="1177" stroke="#000" stroke-width="1.0"/>
<line x1="430.07" y1="1184.5" x2="430.07" y2="1177" stroke="#000" stroke-width="1.0"/>
<line x1="477.7" y1="1184.5" x2="477.7" y2="1177" stroke="#000" stroke-width="1.0"/>
<line x1="501.88" y1="1184.5" x2="501.88" y2="1177" stroke="#000" stroke-width="1.0"/>
<line x1="519.04" y1="1184.5" x2="519.04" y2="1177" stroke="#000" stroke-width="1.0"/>
<line x1="532.35" y1="1184.5" x2="532.35" y2="1177" stroke="#000" stroke-width="1.0"/>
<line x1="543.23" y1="1184.5" x2="543.23" y2="1177" stroke="#000" stroke-width="1.0"/>
<line x1="552.42" y1="1184.5" x2="552.42" y2="1177" stroke="#000" stroke-width="1.0"/>
<line x1="560.39" y1="1184.5" x2="560.39" y2="1177" stroke="#000" stroke-width="1.0"/>
<line x1="567.42" y1="1184.5" x2="567.42" y2="1177" stroke="#000" stroke-width="1.0"/>
<g fill="#cc0000"><circle cx="193.9" cy="1132.4" r="15.3"/><circle cx="368.4" cy="962.9" r="15.3"/><circle cx="437.9" cy="889.4" r="15.3"/><circle cx="454.9" cy="870.9" r="15.3"/><circle cx="488.4" cy="838.9" r="15.3"/><circle cx="543.4" cy="781.9" r="15.3"/></g>
<text transform="translate(126.5 828.1) scale(1 1.055)" font-size="42.67" text-anchor="end">100</text>
<text transform="translate(126.5 946.5) scale(1 1.055)" font-size="42.67" text-anchor="end">10</text>
<text transform="translate(126.5 1064.9) scale(1 1.055)" font-size="42.67" text-anchor="end">1</text>
<text transform="translate(126.5 1183.3) scale(1 1.055)" font-size="42.67" text-anchor="end">0.1</text>
<text transform="translate(161.65 1238) scale(1 1.055)" font-size="42.67" text-anchor="middle">0.01</text>
<text transform="translate(299 1238) scale(1 1.055)" font-size="42.67" text-anchor="middle">0.1</text>
<text transform="translate(436.35 1238) scale(1 1.055)" font-size="42.67" text-anchor="middle">1</text>
<text transform="translate(573.7 1238) scale(1 1.055)" font-size="42.67" text-anchor="middle">10</text>
<text transform="translate(369.6 1288)" font-size="42.67" text-anchor="middle">Incident power (mW)</text>
<text transform="translate(32 954.3) rotate(-90)" font-size="42.67" text-anchor="middle">Photocurrent (nA)</text>
</g>
<g id="panel-e">
<line x1="837" y1="739" x2="1061" y2="739" stroke="#000" stroke-width="1.0"/>
<line x1="1061" y1="739.5" x2="1286" y2="739.5" stroke="#000" stroke-width="1.0"/>
<line x1="837.5" y1="739" x2="837.5" y2="1186" stroke="#000" stroke-width="1.0"/>
<line x1="1285.5" y1="739" x2="1285.5" y2="1186" stroke="#000" stroke-width="1.0"/>
<line x1="837" y1="1185.5" x2="1286" y2="1185.5" stroke="#000" stroke-width="1.0"/>
<line x1="1061" y1="739" x2="1061" y2="1185.5" stroke="#000" stroke-width="1.0"/>
<line x1="837.5" y1="1141" x2="852.5" y2="1141" stroke="#000" stroke-width="1.0"/>
<line x1="1061" y1="1141" x2="1046" y2="1141" stroke="#000" stroke-width="1.0"/>
<line x1="837.5" y1="1049.35" x2="852.5" y2="1049.35" stroke="#000" stroke-width="1.0"/>
<line x1="1061" y1="1049.35" x2="1046" y2="1049.35" stroke="#000" stroke-width="1.0"/>
<line x1="837.5" y1="957.7" x2="852.5" y2="957.7" stroke="#000" stroke-width="1.0"/>
<line x1="1061" y1="957.7" x2="1046" y2="957.7" stroke="#000" stroke-width="1.0"/>
<line x1="837.5" y1="866.05" x2="852.5" y2="866.05" stroke="#000" stroke-width="1.0"/>
<line x1="1061" y1="866.05" x2="1046" y2="866.05" stroke="#000" stroke-width="1.0"/>
<line x1="837.5" y1="774.4" x2="852.5" y2="774.4" stroke="#000" stroke-width="1.0"/>
<line x1="1061" y1="774.4" x2="1046" y2="774.4" stroke="#000" stroke-width="1.0"/>
<line x1="1061" y1="1142" x2="1076" y2="1142" stroke="#000" stroke-width="1.0"/>
<line x1="1285.5" y1="1142" x2="1270.5" y2="1142" stroke="#000" stroke-width="1.0"/>
<line x1="1061" y1="1050.35" x2="1076" y2="1050.35" stroke="#000" stroke-width="1.0"/>
<line x1="1285.5" y1="1050.35" x2="1270.5" y2="1050.35" stroke="#000" stroke-width="1.0"/>
<line x1="1061" y1="958.7" x2="1076" y2="958.7" stroke="#000" stroke-width="1.0"/>
<line x1="1285.5" y1="958.7" x2="1270.5" y2="958.7" stroke="#000" stroke-width="1.0"/>
<line x1="1061" y1="867.05" x2="1076" y2="867.05" stroke="#000" stroke-width="1.0"/>
<line x1="1285.5" y1="867.05" x2="1270.5" y2="867.05" stroke="#000" stroke-width="1.0"/>
<line x1="1061" y1="775.4" x2="1076" y2="775.4" stroke="#000" stroke-width="1.0"/>
<line x1="1285.5" y1="775.4" x2="1270.5" y2="775.4" stroke="#000" stroke-width="1.0"/>
<line x1="855.4" y1="1185.5" x2="855.4" y2="1170.5" stroke="#000" stroke-width="1.0"/>
<line x1="941.3" y1="1185.5" x2="941.3" y2="1170.5" stroke="#000" stroke-width="1.0"/>
<line x1="1027.2" y1="1185.5" x2="1027.2" y2="1170.5" stroke="#000" stroke-width="1.0"/>
<line x1="898.35" y1="1185.5" x2="898.35" y2="1178" stroke="#000" stroke-width="1.0"/>
<line x1="984.25" y1="1185.5" x2="984.25" y2="1178" stroke="#000" stroke-width="1.0"/>
<line x1="1087.5" y1="1185.5" x2="1087.5" y2="1170.5" stroke="#000" stroke-width="1.0"/>
<line x1="1169.55" y1="1185.5" x2="1169.55" y2="1170.5" stroke="#000" stroke-width="1.0"/>
<line x1="1251.6" y1="1185.5" x2="1251.6" y2="1170.5" stroke="#000" stroke-width="1.0"/>
<line x1="1128.53" y1="1185.5" x2="1128.53" y2="1178" stroke="#000" stroke-width="1.0"/>
<line x1="1210.58" y1="1185.5" x2="1210.58" y2="1178" stroke="#000" stroke-width="1.0"/>
<polyline fill="none" stroke="#cc0000" stroke-width="2.0" stroke-linejoin="round" stroke-linecap="round" points="857.98,1139.53 861.88,1138.18 865.79,1138.67 869.69,1138.23 873.6,1136.88 877.5,1137.37 881.4,1136.93 885.31,1135.58 889.21,1136.07 893.12,1135.63 897.02,1134.28 900.93,1134.77 909,1061.26 917.68,1008.11 926.27,931.67 934.69,859.45 943.02,804.46 949.89,795.66 953.74,792.51 957.58,792.65 961.43,794.99 965.28,796.24 969.12,795.28 972.97,795.42 976.82,795.57 980.66,796.81 984.51,795.85 988.36,796 992.21,796.14 996.05,797.38 999.9,796.43 1003.75,796.57 1007.59,796.71 1011.44,797.96 1015.29,797 1019.13,797.15 1022.98,797.29 1026.83,798.53 1030.67,797.58 1034.52,797.72 1038.37,797.86"/>
<g fill="#cc0000"><circle cx="857.98" cy="1139.53" r="15.3"/><circle cx="861.88" cy="1138.18" r="15.3"/><circle cx="865.79" cy="1138.67" r="15.3"/><circle cx="869.69" cy="1138.23" r="15.3"/><circle cx="873.6" cy="1136.88" r="15.3"/><circle cx="877.5" cy="1137.37" r="15.3"/><circle cx="881.4" cy="1136.93" r="15.3"/><circle cx="885.31" cy="1135.58" r="15.3"/><circle cx="889.21" cy="1136.07" r="15.3"/><circle cx="893.12" cy="1135.63" r="15.3"/><circle cx="897.02" cy="1134.28" r="15.3"/><circle cx="900.93" cy="1134.77" r="15.3"/><circle cx="909" cy="1061.26" r="15.3"/><circle cx="917.68" cy="1008.11" r="15.3"/><circle cx="926.27" cy="931.67" r="15.3"/><circle cx="934.69" cy="859.45" r="15.3"/><circle cx="943.02" cy="804.46" r="15.3"/><circle cx="949.89" cy="795.66" r="15.3"/><circle cx="953.74" cy="792.51" r="15.3"/><circle cx="957.58" cy="792.65" r="15.3"/><circle cx="961.43" cy="794.99" r="15.3"/><circle cx="965.28" cy="796.24" r="15.3"/><circle cx="969.12" cy="795.28" r="15.3"/><circle cx="972.97" cy="795.42" r="15.3"/><circle cx="976.82" cy="795.57" r="15.3"/><circle cx="980.66" cy="796.81" r="15.3"/><circle cx="984.51" cy="795.85" r="15.3"/><circle cx="988.36" cy="796" r="15.3"/><circle cx="992.21" cy="796.14" r="15.3"/><circle cx="996.05" cy="797.38" r="15.3"/><circle cx="999.9" cy="796.43" r="15.3"/><circle cx="1003.75" cy="796.57" r="15.3"/><circle cx="1007.59" cy="796.71" r="15.3"/><circle cx="1011.44" cy="797.96" r="15.3"/><circle cx="1015.29" cy="797" r="15.3"/><circle cx="1019.13" cy="797.15" r="15.3"/><circle cx="1022.98" cy="797.29" r="15.3"/><circle cx="1026.83" cy="798.53" r="15.3"/><circle cx="1030.67" cy="797.58" r="15.3"/><circle cx="1034.52" cy="797.72" r="15.3"/><circle cx="1038.37" cy="797.86" r="15.3"/></g>
<polyline fill="none" stroke="#cc0000" stroke-width="2.0" stroke-linejoin="round" stroke-linecap="round" points="1082.17,799.33 1085.99,801.09 1089.81,801.21 1093.63,799.68 1097.45,801.44 1101.28,801.56 1105.1,800.02 1108.92,801.79 1112.74,801.9 1116.56,800.37 1120.38,802.14 1124.21,802.25 1128.03,800.72 1131.85,802.48 1135.67,802.6 1139.49,801.07 1143.32,802.83 1147.14,802.95 1150.96,801.41 1154.78,803.18 1163.21,837.78 1171.36,887.9 1180,1018.02 1188.15,1151.8 1196.79,1146.37 1203.46,1151.8 1212.1,1153.28 1220.74,1150.81 1229.38,1147.36 1238.02,1144.89 1246.67,1142.91 1254.57,1140.94 1262.72,1139.95"/>
<g fill="#cc0000"><circle cx="1082.17" cy="799.33" r="15.3"/><circle cx="1085.99" cy="801.09" r="15.3"/><circle cx="1089.81" cy="801.21" r="15.3"/><circle cx="1093.63" cy="799.68" r="15.3"/><circle cx="1097.45" cy="801.44" r="15.3"/><circle cx="1101.28" cy="801.56" r="15.3"/><circle cx="1105.1" cy="800.02" r="15.3"/><circle cx="1108.92" cy="801.79" r="15.3"/><circle cx="1112.74" cy="801.9" r="15.3"/><circle cx="1116.56" cy="800.37" r="15.3"/><circle cx="1120.38" cy="802.14" r="15.3"/><circle cx="1124.21" cy="802.25" r="15.3"/><circle cx="1128.03" cy="800.72" r="15.3"/><circle cx="1131.85" cy="802.48" r="15.3"/><circle cx="1135.67" cy="802.6" r="15.3"/><circle cx="1139.49" cy="801.07" r="15.3"/><circle cx="1143.32" cy="802.83" r="15.3"/><circle cx="1147.14" cy="802.95" r="15.3"/><circle cx="1150.96" cy="801.41" r="15.3"/><circle cx="1154.78" cy="803.18" r="15.3"/><circle cx="1163.21" cy="837.78" r="15.3"/><circle cx="1171.36" cy="887.9" r="15.3"/><circle cx="1180" cy="1018.02" r="15.3"/><circle cx="1188.15" cy="1151.8" r="15.3"/><circle cx="1196.79" cy="1146.37" r="15.3"/><circle cx="1203.46" cy="1151.8" r="15.3"/><circle cx="1212.1" cy="1153.28" r="15.3"/><circle cx="1220.74" cy="1150.81" r="15.3"/><circle cx="1229.38" cy="1147.36" r="15.3"/><circle cx="1238.02" cy="1144.89" r="15.3"/><circle cx="1246.67" cy="1142.91" r="15.3"/><circle cx="1254.57" cy="1140.94" r="15.3"/><circle cx="1262.72" cy="1139.95" r="15.3"/></g>
<text transform="translate(829.3 1156.5) scale(1 1.055)" font-size="42.67" text-anchor="end">0</text>
<text transform="translate(829.3 1064.85) scale(1 1.055)" font-size="42.67" text-anchor="end">50</text>
<text transform="translate(829.3 973.2) scale(1 1.055)" font-size="42.67" text-anchor="end">100</text>
<text transform="translate(829.3 881.55) scale(1 1.055)" font-size="42.67" text-anchor="end">150</text>
<text transform="translate(829.3 789.9) scale(1 1.055)" font-size="42.67" text-anchor="end">200</text>
<text transform="translate(855.4 1231.6) scale(0.95 1.055)" font-size="42.67" text-anchor="middle">0</text>
<text transform="translate(1087.5 1231.6) scale(0.95 1.055)" font-size="42.67" text-anchor="middle">0</text>
<text transform="translate(940.1 1231.6) scale(0.95 1.055)" font-size="42.67" text-anchor="middle">10</text>
<text transform="translate(1168.35 1231.6) scale(0.95 1.055)" font-size="42.67" text-anchor="middle">10</text>
<text transform="translate(1026 1231.6) scale(0.95 1.055)" font-size="42.67" text-anchor="middle">20</text>
<text transform="translate(1250.4 1231.6) scale(0.95 1.055)" font-size="42.67" text-anchor="middle">20</text>
<text transform="translate(950.8 1286)" font-size="42.67" text-anchor="middle">Time (µs)</text>
<text transform="translate(1174.3 1286)" font-size="42.67" text-anchor="middle">Time (µs)</text>
<text transform="translate(729.6 954.3) rotate(-90)" font-size="42.67" text-anchor="middle">Photocurrent (nA)</text>
<text transform="translate(1017.2 1110.5) rotate(-90)" font-size="48.5" text-anchor="start"><tspan font-style="italic" font-family="'Liberation Serif', 'Times New Roman', serif" font-size="47">τ</tspan><tspan font-size="33.5" dy="13.2">rise</tspan></text>
<text transform="translate(1017.2 1026.5) rotate(-90) scale(1 1.055)" font-size="48.5" text-anchor="start">= 4.1 µs</text>
<text transform="translate(1245 1075) rotate(-90)" font-size="48.5" text-anchor="start"><tspan font-style="italic" font-family="'Liberation Serif', 'Times New Roman', serif" font-size="47">τ</tspan><tspan font-size="33.5" dy="13.2">fall</tspan></text>
<text transform="translate(1245 1002) rotate(-90) scale(1 1.055)" font-size="48.5" text-anchor="start">= 2.5 µs</text>
</g>
<g id="panel-f">
<rect x="1547" y="740.5" width="444.6" height="445.1" fill="none" stroke="#000" stroke-width="1.0"/>
<line x1="1547" y1="795.3" x2="1562" y2="795.3" stroke="#000" stroke-width="1.0"/>
<line x1="1991.6" y1="795.3" x2="1976.6" y2="795.3" stroke="#000" stroke-width="1.0"/>
<line x1="1547" y1="869.94" x2="1562" y2="869.94" stroke="#000" stroke-width="1.0"/>
<line x1="1991.6" y1="869.94" x2="1976.6" y2="869.94" stroke="#000" stroke-width="1.0"/>
<line x1="1547" y1="944.58" x2="1562" y2="944.58" stroke="#000" stroke-width="1.0"/>
<line x1="1991.6" y1="944.58" x2="1976.6" y2="944.58" stroke="#000" stroke-width="1.0"/>
<line x1="1547" y1="1019.22" x2="1562" y2="1019.22" stroke="#000" stroke-width="1.0"/>
<line x1="1991.6" y1="1019.22" x2="1976.6" y2="1019.22" stroke="#000" stroke-width="1.0"/>
<line x1="1547" y1="1093.86" x2="1562" y2="1093.86" stroke="#000" stroke-width="1.0"/>
<line x1="1991.6" y1="1093.86" x2="1976.6" y2="1093.86" stroke="#000" stroke-width="1.0"/>
<line x1="1547" y1="1168.5" x2="1562" y2="1168.5" stroke="#000" stroke-width="1.0"/>
<line x1="1991.6" y1="1168.5" x2="1976.6" y2="1168.5" stroke="#000" stroke-width="1.0"/>
<line x1="1569.5" y1="1185.6" x2="1569.5" y2="1170.6" stroke="#000" stroke-width="1.0"/>
<line x1="1669.67" y1="1185.6" x2="1669.67" y2="1170.6" stroke="#000" stroke-width="1.0"/>
<line x1="1769.84" y1="1185.6" x2="1769.84" y2="1170.6" stroke="#000" stroke-width="1.0"/>
<line x1="1870.01" y1="1185.6" x2="1870.01" y2="1170.6" stroke="#000" stroke-width="1.0"/>
<line x1="1970.18" y1="1185.6" x2="1970.18" y2="1170.6" stroke="#000" stroke-width="1.0"/>
<g fill="#cc0000"><circle cx="1569.8" cy="795.5" r="15.3"/><circle cx="1669.8" cy="795.5" r="15.3"/><circle cx="1769.8" cy="795.5" r="15.3"/><circle cx="1869.8" cy="795.5" r="15.3"/><circle cx="1899.8" cy="822" r="15.3"/><circle cx="1917.8" cy="901" r="15.3"/><circle cx="1930.3" cy="974" r="15.3"/><circle cx="1934.3" cy="1019.5" r="15.3"/><circle cx="1939.8" cy="1084.5" r="15.3"/></g>
<text transform="translate(1538.4 810.8) scale(1 1.055)" font-size="42.67" text-anchor="end">0</text>
<text transform="translate(1538.4 885.44) scale(1 1.055)" font-size="42.67" text-anchor="end">-1</text>
<text transform="translate(1538.4 960.08) scale(1 1.055)" font-size="42.67" text-anchor="end">-2</text>
<text transform="translate(1538.4 1034.72) scale(1 1.055)" font-size="42.67" text-anchor="end">-3</text>
<text transform="translate(1538.4 1109.36) scale(1 1.055)" font-size="42.67" text-anchor="end">-4</text>
<text transform="translate(1538.4 1184) scale(1 1.055)" font-size="42.67" text-anchor="end">-5</text>
<text transform="translate(1538.1 1249.4) scale(1 1.055)" font-size="42.67" text-anchor="start">10</text>
<text transform="translate(1586.6 1220.6) scale(1 1.055)" font-size="29" text-anchor="start">1</text>
<text transform="translate(1738.44 1249.4) scale(1 1.055)" font-size="42.67" text-anchor="start">10</text>
<text transform="translate(1786.94 1220.6) scale(1 1.055)" font-size="29" text-anchor="start">3</text>
<text transform="translate(1938.78 1249.4) scale(1 1.055)" font-size="42.67" text-anchor="start">10</text>
<text transform="translate(1987.28 1220.6) scale(1 1.055)" font-size="29" text-anchor="start">5</text>
<text transform="translate(1770 1286.4)" font-size="42.67" text-anchor="middle">Frequency (Hz)</text>
<text transform="translate(1446.7 963) rotate(-90)" font-size="42.67" text-anchor="middle">Amplitude (dB)</text>
</g>
</svg>
</body>
</html>
